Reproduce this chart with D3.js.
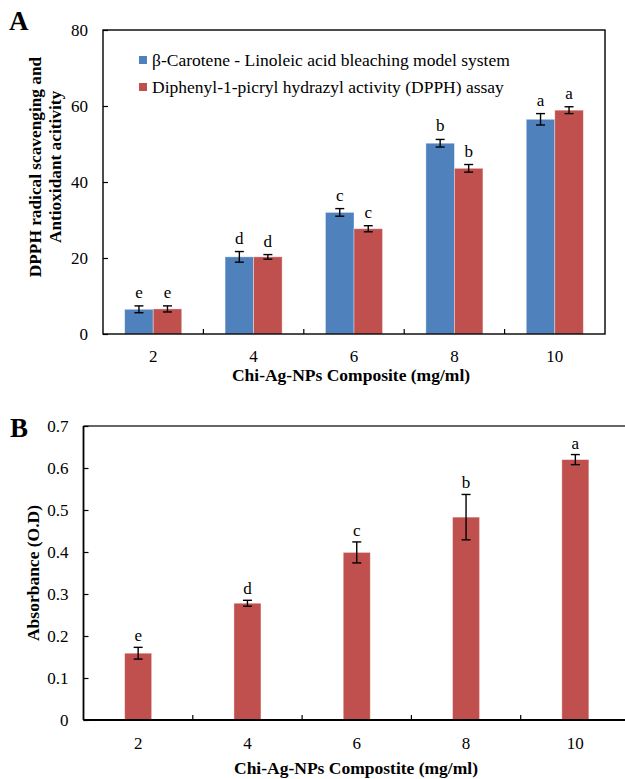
<!DOCTYPE html>
<html>
<head>
<meta charset="utf-8">
<script src="https://cdn.jsdelivr.net/npm/d3@7"></script>
<style>
  body { margin: 0; background: #fff; }
  svg, svg text { font-family: "Liberation Serif", "Times New Roman", Times, "DejaVu Serif", serif !important; fill: #000; }
</style>
</head>
<body>
<div id="chart"></div>
<script>
// concentrations (mg/ml)
var concentrations = ["2", "4", "6", "8", "10"];

// panel A
var seriesA = ["β-Carotene - Linoleic acid bleaching model system",
               "Diphenyl-1-picryl hydrazyl activity (DPPH) assay"];
var betaCarotene = [6.5, 20.3, 32.0, 50.2, 56.5];
var betaCaroteneErr = [0.9, 1.4, 1.0, 1.0, 1.5];
var betaCaroteneLetters = ["e", "d", "c", "b", "a"];
var dpph = [6.6, 20.3, 27.7, 43.6, 58.9];
var dpphErr = [0.8, 0.6, 0.8, 1.0, 0.9];
var dpphLetters = ["e", "d", "c", "b", "a"];
var ticksA = [0, 20, 40, 60, 80];

// panel B
var absorbance = [0.159, 0.278, 0.399, 0.483, 0.620];
var absorbanceErr = [0.014, 0.007, 0.025, 0.054, 0.012];
var absorbanceLetters = ["e", "d", "c", "b", "a"];
var ticksB = [0, 0.1, 0.2, 0.3, 0.4, 0.5, 0.6, 0.7];

var blue = "#4f81bd", red = "#c0504d";
var serif = '"Liberation Serif", "Times New Roman", Times, "DejaVu Serif", serif';

var svg = d3.select("#chart")
  .append("svg")
  .attr("width", 625)
  .attr("height", 779)
  .attr("font-family", serif);

// error bar + letter helper
function errorBar(g, cx, yTop, yBot, letterY, letter) {
  g.append("line").attr("x1", cx).attr("x2", cx).attr("y1", yTop).attr("y2", yBot)
    .attr("stroke", "#000").attr("stroke-width", 1.4);
  [yTop, yBot].forEach(function (yy) {
    g.append("line").attr("x1", cx - 4.5).attr("x2", cx + 4.5).attr("y1", yy).attr("y2", yy)
      .attr("stroke", "#000").attr("stroke-width", 1.4);
  });
  g.append("text").attr("x", cx).attr("y", letterY)
    .attr("text-anchor", "middle").style("font-size", "17px").text(letter);
}

// ---------------- Panel A ----------------
var xA = d3.scaleBand().domain(concentrations).range([103, 605])
  .paddingInner(0.432).paddingOuter(0.216);
var subA = d3.scaleBand().domain([0, 1]).range([0, xA.bandwidth()]);
var yA = d3.scaleLinear().domain([0, 80]).range([334, 30]);

var gA = svg.append("g");

var rowsA = [
  { vals: betaCarotene, err: betaCaroteneErr, letters: betaCaroteneLetters, color: blue },
  { vals: dpph, err: dpphErr, letters: dpphLetters, color: red }
];

rowsA.forEach(function (row, s) {
  gA.selectAll(null)
    .data(concentrations)
    .enter()
    .append("rect")
    .attr("x", function (d) { return xA(d) + subA(s); })
    .attr("width", subA.bandwidth())
    .attr("y", function (d, i) { return yA(row.vals[i]); })
    .attr("height", function (d, i) { return yA(0) - yA(row.vals[i]); })
    .attr("fill", row.color)
    .attr("stroke", "rgba(255,255,255,0.45)")
    .attr("stroke-width", 0.8);
});

rowsA.forEach(function (row, s) {
  concentrations.forEach(function (c, i) {
    var cx = xA(c) + subA(s) + subA.bandwidth() / 2;
    var top = yA(row.vals[i] + row.err[i]);
    errorBar(gA, cx, top, yA(row.vals[i] - row.err[i]), top - 8, row.letters[i]);
  });
});

// frame
gA.append("rect").attr("x", 103).attr("y", 30).attr("width", 502).attr("height", 304)
  .attr("fill", "none").attr("stroke", "#000").attr("stroke-width", 1.4);

// y axis (inward ticks)
var axA = gA.append("g")
  .attr("transform", "translate(103,0)")
  .call(d3.axisLeft(yA).tickValues(ticksA).tickSize(-5).tickSizeOuter(0).tickPadding(15));
axA.attr("font-family", serif);
axA.select(".domain").remove();
axA.selectAll("line").attr("stroke", "#000").attr("stroke-width", 1.2);
axA.selectAll("text").style("font-size", "17px").attr("fill", "#000");

// x ticks at category boundaries, inward
d3.range(1, concentrations.length).forEach(function (i) {
  var bx = xA.range()[0] + i * xA.step();
  gA.append("line").attr("x1", bx).attr("x2", bx).attr("y1", 334).attr("y2", 329)
    .attr("stroke", "#000").attr("stroke-width", 1.2);
});
gA.selectAll(null).data(concentrations).enter().append("text")
  .attr("x", function (d) { return xA(d) + xA.bandwidth() / 2; })
  .attr("y", 362)
  .attr("text-anchor", "middle").style("font-size", "17px")
  .text(function (d) { return d; });

gA.append("text").attr("x", 351).attr("y", 381).attr("text-anchor", "middle")
  .style("font-size", "17.5px").style("font-weight", "bold")
  .text("Chi-Ag-NPs Composite (mg/ml)");

var yTitleA = gA.append("text")
  .attr("transform", "translate(0,167) rotate(-90)")
  .attr("text-anchor", "middle").style("font-size", "17.3px").style("font-weight", "bold");
yTitleA.append("tspan").attr("x", 0).attr("y", 41).text("DPPH radical scavenging and");
yTitleA.append("tspan").attr("x", 0).attr("y", 61).text("Antioxidant acitivity");

// legend
seriesA.forEach(function (name, i) {
  var ly = 56 + i * 27;
  gA.append("rect").attr("x", 139).attr("y", ly).attr("width", 8).attr("height", 8)
    .attr("fill", rowsA[i].color);
  gA.append("text").attr("x", 152).attr("y", ly + 9.5).style("font-size", "17.5px").text(name);
});

svg.append("text").attr("x", 9).attr("y", 30).style("font-size", "27px")
  .style("font-weight", "bold").text("A");

// ---------------- Panel B ----------------
var stepB = 109.3;
var xB = d3.scaleBand().domain(concentrations).range([83.5, 83.5 + stepB * 5])
  .paddingInner(0.753).paddingOuter(0.3765);
var yB = d3.scaleLinear().domain([0, 0.7]).range([720, 426]);

var gB = svg.append("g");

gB.selectAll(null)
  .data(concentrations)
  .enter()
  .append("rect")
  .attr("x", function (d) { return xB(d); })
  .attr("width", xB.bandwidth())
  .attr("y", function (d, i) { return yB(absorbance[i]); })
  .attr("height", function (d, i) { return yB(0) - yB(absorbance[i]); })
  .attr("fill", red)
  .attr("stroke", "rgba(255,255,255,0.45)")
  .attr("stroke-width", 0.8);

concentrations.forEach(function (c, i) {
  var cx = xB(c) + xB.bandwidth() / 2;
  var top = yB(absorbance[i] + absorbanceErr[i]);
  errorBar(gB, cx, top, yB(absorbance[i] - absorbanceErr[i]), top - 6, absorbanceLetters[i]);
});

// frame: left, bottom, top (right edge falls outside the picture)
gB.append("line").attr("x1", 83.5).attr("x2", 625).attr("y1", 426).attr("y2", 426)
  .attr("stroke", "#333").attr("stroke-width", 1.4);
gB.append("line").attr("x1", 83.5).attr("x2", 83.5).attr("y1", 426).attr("y2", 720)
  .attr("stroke", "#000").attr("stroke-width", 1.8);
gB.append("line").attr("x1", 83.5).attr("x2", 625).attr("y1", 720).attr("y2", 720)
  .attr("stroke", "#000").attr("stroke-width", 1.8);

var axB = gB.append("g")
  .attr("transform", "translate(83.5,0)")
  .call(d3.axisLeft(yB).tickValues(ticksB).tickSize(-5).tickSizeOuter(0).tickPadding(15)
    .tickFormat(function (d) { return d === 0 ? "0" : d3.format(".1f")(d); }));
axB.attr("font-family", serif);
axB.select(".domain").remove();
axB.selectAll("line").attr("stroke", "#000").attr("stroke-width", 1.2);
axB.selectAll("text").style("font-size", "17px").attr("fill", "#000");

d3.range(1, concentrations.length).forEach(function (i) {
  var bx = xB.range()[0] + i * xB.step();
  gB.append("line").attr("x1", bx).attr("x2", bx).attr("y1", 720).attr("y2", 715)
    .attr("stroke", "#000").attr("stroke-width", 1.2);
});
gB.selectAll(null).data(concentrations).enter().append("text")
  .attr("x", function (d) { return xB(d) + xB.bandwidth() / 2; })
  .attr("y", 749)
  .attr("text-anchor", "middle").style("font-size", "17px")
  .text(function (d) { return d; });

gB.append("text").attr("x", 356).attr("y", 774).attr("text-anchor", "middle")
  .style("font-size", "17.5px").style("font-weight", "bold")
  .text("Chi-Ag-NPs Compostite (mg/ml)");

gB.append("text")
  .attr("transform", "translate(39,573) rotate(-90)")
  .attr("text-anchor", "middle").style("font-size", "17.5px").style("font-weight", "bold")
  .text("Absorbance (O.D)");

svg.append("text").attr("x", 10).attr("y", 437).style("font-size", "27px")
  .style("font-weight", "bold").text("B");
</script>
</body>
</html>
